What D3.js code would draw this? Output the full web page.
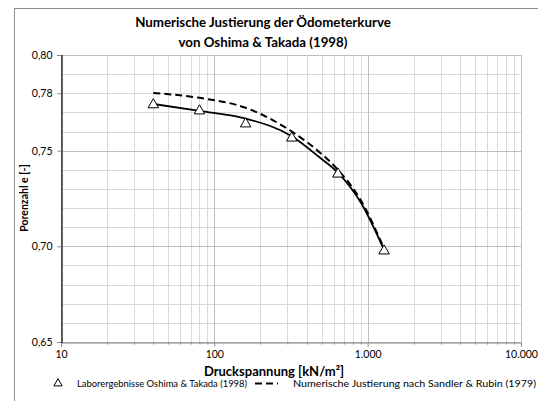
<!DOCTYPE html>
<html>
<head>
<meta charset="utf-8">
<script src="https://cdn.jsdelivr.net/npm/d3@7"></script>
<style>
  body { margin: 0; background: #fff; }
  svg text { font-family: Lato, 'Open Sans', sans-serif; fill: #000; }
</style>
</head>
<body>
<svg id="canvas"></svg>
<script>
// Laborergebnisse (Dreiecke)
const labPressure = [40, 80, 160, 320, 640, 1280];
const labVoid = [0.7740, 0.7708, 0.7640, 0.7566, 0.7378, 0.6976];

// Ausgleichskurve (durchgezogen)
const fitPressure = [40, 80, 160, 320, 480, 640, 900, 1280];
const fitVoid = [0.7744, 0.7708, 0.7668, 0.7575, 0.7468, 0.7385, 0.7230, 0.6981];

// Numerische Justierung (gestrichelt)
const numPressure = [40, 80, 160, 320, 480, 640, 900, 1280];
const numVoid = [0.7802, 0.7776, 0.7724, 0.7600, 0.7495, 0.7400, 0.7242, 0.6988];

const yTicks = [0.65, 0.70, 0.75, 0.78, 0.80];
const xTicks = [10, 100, 1000, 10000];

const titleLines = ['Numerische Justierung der Ödometerkurve', 'von Oshima & Takada (1998)'];
const xTitle = 'Druckspannung [kN/m²]';
const yTitle = 'Porenzahl e [-]';
const legendLab = 'Laborergebnisse Oshima & Takada (1998)';
const legendNum = 'Numerische Justierung nach Sandler & Rubin (1979)';

const width = 538;
const height = 401;
const plotLeft = 61, plotRight = 521, plotTop = 55, plotBottom = 342;

const de = d3.formatLocale({ decimal: ',', thousands: '.', grouping: [3], currency: ['', ''] });

const svg = d3.select('#canvas').attr('width', width).attr('height', height);

// Rahmen des Diagramms
svg.append('rect')
  .attr('x', 14.5).attr('y', 8.5)
  .attr('width', 540).attr('height', 420)
  .attr('fill', 'none').attr('stroke', '#8c8c8c').attr('stroke-width', 1);

const x = d3.scaleLog().domain([10, 10000]).range([plotLeft, plotRight]);
const y = d3.scaleLinear().domain([0.65, 0.80]).range([plotBottom, plotTop]);

// Gitter
const minorX = [];
for (let dec = 10; dec < 10000; dec *= 10) {
  for (let k = 2; k <= 9; k++) minorX.push(dec * k);
}
const minorY = d3.range(65, 81).map(v => v / 100);

const grid = svg.append('g');
grid.selectAll('.vminor').data(minorX).enter().append('line')
  .attr('x1', d => Math.round(x(d)) + 0.5).attr('x2', d => Math.round(x(d)) + 0.5)
  .attr('y1', plotTop).attr('y2', plotBottom)
  .attr('stroke', '#d9d9d9');
grid.selectAll('.hminor').data(minorY).enter().append('line')
  .attr('x1', plotLeft).attr('x2', plotRight)
  .attr('y1', d => Math.round(y(d)) + 0.5).attr('y2', d => Math.round(y(d)) + 0.5)
  .attr('stroke', d => (Math.round(d * 100) % 5 === 0) ? '#bfbfbf' : '#d9d9d9');
grid.selectAll('.vmajor').data(xTicks).enter().append('line')
  .attr('x1', d => Math.round(x(d)) + 0.5).attr('x2', d => Math.round(x(d)) + 0.5)
  .attr('y1', plotTop).attr('y2', plotBottom)
  .attr('stroke', '#bfbfbf');

// Achsen
const xAxis = d3.axisBottom(x).tickValues(xTicks).tickSize(4).tickPadding(4)
  .tickFormat(d => de.format(',')(d));
const xg = svg.append('g').attr('transform', `translate(0,${Math.round(plotBottom) + 0.5})`).call(xAxis);
xg.select('.domain').attr('stroke', '#868686');
xg.selectAll('.tick line').attr('stroke', '#868686');
xg.selectAll('text').attr('font-size', 10.5);

const xMinorAxis = d3.axisBottom(x).tickValues(minorX).tickSize(2).tickFormat('');
const xmg = svg.append('g').attr('transform', `translate(0,${Math.round(plotBottom) + 0.5})`).call(xMinorAxis);
xmg.select('.domain').remove();
xmg.selectAll('.tick line').attr('stroke', '#868686');

const yAxis = d3.axisLeft(y).tickValues(yTicks).tickSize(4).tickPadding(5)
  .tickFormat(d => de.format('.2f')(d));
const yg = svg.append('g').attr('transform', `translate(${plotLeft + 0.5},0)`).call(yAxis);
yg.select('.domain').attr('stroke', '#000').attr('stroke-width', 1.2);
yg.selectAll('.tick line').attr('stroke', '#868686');
yg.selectAll('text').attr('font-size', 10.5);

// Kurven
const line = d3.line().curve(d3.curveMonotoneX).x(d => x(d[0])).y(d => y(d[1]));

svg.append('path')
  .datum(d3.zip(fitPressure, fitVoid))
  .attr('d', line)
  .attr('fill', 'none').attr('stroke', '#000').attr('stroke-width', 1.8);

svg.append('path')
  .datum(d3.zip(numPressure, numVoid))
  .attr('d', line)
  .attr('fill', 'none').attr('stroke', '#000').attr('stroke-width', 2)
  .attr('stroke-dasharray', '7,4');

// Messpunkte
const tri = d3.symbol().type(d3.symbolTriangle).size(48);
svg.selectAll('.lab').data(d3.zip(labPressure, labVoid)).enter().append('path')
  .attr('d', tri)
  .attr('transform', d => `translate(${x(d[0])},${y(d[1])})`)
  .attr('fill', '#fff').attr('stroke', '#000').attr('stroke-width', 1);

// Titel
svg.append('text')
  .attr('x', 263).attr('y', 27)
  .attr('text-anchor', 'middle').attr('font-size', 13.3).attr('font-weight', 'bold')
  .selectAll('tspan').data(titleLines).enter().append('tspan')
  .attr('x', 263).attr('dy', (d, i) => i === 0 ? 0 : 20)
  .text(d => d);

svg.append('text')
  .attr('x', 274).attr('y', 376)
  .attr('text-anchor', 'middle').attr('font-size', 13).attr('font-weight', 'bold')
  .text(xTitle);

svg.append('text')
  .attr('transform', `translate(28,198) rotate(-90)`)
  .attr('text-anchor', 'middle').attr('font-size', 10.5).attr('font-weight', 'bold')
  .text(yTitle);

// Legende
const lg = svg.append('g').attr('transform', 'translate(0,387)');
lg.append('path').attr('d', d3.symbol().type(d3.symbolTriangle).size(30))
  .attr('transform', 'translate(58,-3.5)')
  .attr('fill', '#fff').attr('stroke', '#000');
lg.append('text').attr('x', 77).attr('y', 0).attr('font-size', 10.4)
  .attr('textLength', 170).attr('lengthAdjust', 'spacingAndGlyphs').text(legendLab);
lg.append('line').attr('x1', 255).attr('x2', 278).attr('y1', -3.5).attr('y2', -3.5)
  .attr('stroke', '#000').attr('stroke-width', 2).attr('stroke-dasharray', '7,4');
lg.append('text').attr('x', 293).attr('y', 0).attr('font-size', 10.4)
  .attr('textLength', 243).attr('lengthAdjust', 'spacingAndGlyphs').text(legendNum);
</script>
</body>
</html>
